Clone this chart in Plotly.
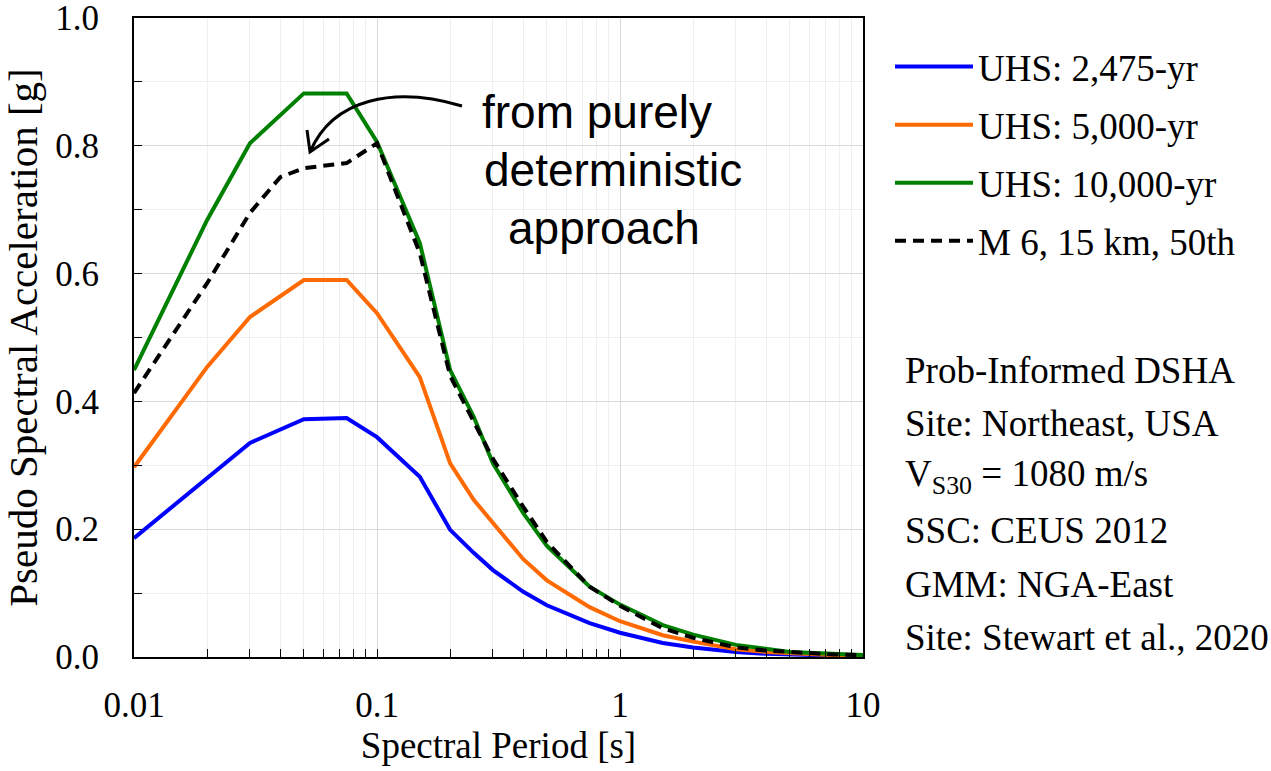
import plotly.graph_objects as go

# ---- data ----
periods_uhs = [0.01, 0.02, 0.03, 0.05, 0.075, 0.1, 0.15, 0.2, 0.25, 0.3, 0.4, 0.5,
               0.75, 1.0, 1.5, 2.0, 3.0, 4.0, 5.0, 7.5, 10.0]
uhs_2475 = [0.186, 0.28, 0.335, 0.372, 0.374, 0.344, 0.282, 0.199, 0.163, 0.136, 0.102, 0.081,
            0.053, 0.038, 0.022, 0.015, 0.008, 0.005, 0.004, 0.002, 0.001]
uhs_5000 = [0.297, 0.454, 0.532, 0.59, 0.59, 0.538, 0.438, 0.303, 0.246, 0.21, 0.153, 0.12,
            0.078, 0.056, 0.034, 0.024, 0.012, 0.008, 0.006, 0.003, 0.002]
uhs_10000 = [0.449, 0.684, 0.804, 0.882, 0.882, 0.806, 0.648, 0.449, 0.376, 0.303, 0.225, 0.174,
             0.11, 0.082, 0.05, 0.035, 0.019, 0.012, 0.008, 0.005, 0.003]
periods_det = [0.01, 0.02, 0.03, 0.04, 0.05, 0.075, 0.1, 0.15, 0.2, 0.25, 0.3, 0.4, 0.5,
               0.75, 1.0, 1.5, 2.0, 3.0, 4.0, 5.0, 7.5, 10.0]
det_m6 = [0.413, 0.585, 0.695, 0.751, 0.765, 0.773, 0.804, 0.632, 0.44, 0.37, 0.31, 0.235, 0.18,
          0.11, 0.08, 0.045, 0.03, 0.015, 0.01, 0.008, 0.004, 0.003]

series_names = ["UHS: 2,475-yr", "UHS: 5,000-yr", "UHS: 10,000-yr", "M 6, 15 km, 50th"]
series_colors = ["#0000FF", "#FF6A00", "#008000", "#000000"]

x_tick_vals = [0.01, 0.1, 1, 10]
x_tick_text = ["0.01", "0.1", "1", "10"]
y_tick_vals = [0.0, 0.2, 0.4, 0.6, 0.8, 1.0]
y_tick_text = ["0.0", "0.2", "0.4", "0.6", "0.8", "1.0"]
info_lines = ["Prob-Informed DSHA", "Site: Northeast, USA", "V<sub>S30</sub> = 1080 m/s",
              "SSC: CEUS 2012", "GMM: NGA-East", "Site: Stewart et al., 2020"]
annot_lines = ["from purely", "deterministic", "approach"]

SERIF = "Liberation Serif, Times New Roman, serif"
SANS = "Liberation Sans, Arial, sans-serif"

# plot area in pixels
L, R, T, B = 134, 863, 18, 657
W, H = R - L, B - T
def px(x):
    return (x - L) / W
def py(y):
    return (B - y) / H

fig = go.Figure()
ys = [uhs_2475, uhs_5000, uhs_10000]
for i in range(3):
    fig.add_trace(go.Scatter(x=periods_uhs, y=ys[i], mode="lines", name=series_names[i],
                             line=dict(color=series_colors[i], width=4), legendgroup=str(i)))
fig.add_trace(go.Scatter(x=periods_det, y=det_m6, mode="lines", name=series_names[3],
                         line=dict(color=series_colors[3], width=4, dash="11px,7px"),
                         legendgroup="3"))

minor_x = [m * 10 ** e for e in (-2, -1, 0) for m in range(2, 10)]
minor_y = [0.1, 0.3, 0.5, 0.7, 0.9]

fig.update_xaxes(type="log", range=[-2, 1], tickmode="array", tickvals=x_tick_vals,
                 ticktext=x_tick_text, ticks="inside", ticklen=8, tickcolor="black",
                 showline=True, linecolor="black", linewidth=2, mirror=True,
                 showgrid=True, gridcolor="#d9d9d9", gridwidth=1,
                 minor=dict(tickmode="array", tickvals=minor_x, ticks="inside", ticklen=8,
                            tickcolor="black", showgrid=True, gridcolor="#efefef", gridwidth=1),
                 tickfont=dict(family=SERIF, size=35, color="black"),
                 title=dict(text="Spectral Period [s]", font=dict(family=SERIF, size=37, color="black"),
                            standoff=6),
                 ticklabelstandoff=16, ticklabeloverflow="allow", zeroline=False)
fig.update_yaxes(range=[0, 1], tickmode="array", tickvals=y_tick_vals, ticktext=y_tick_text,
                 ticks="inside", ticklen=8,
                 tickcolor="black", showline=True, linecolor="black", linewidth=2, mirror=True,
                 showgrid=True, gridcolor="#d9d9d9", gridwidth=1,
                 minor=dict(tickmode="array", tickvals=minor_y, ticks="inside", ticklen=8,
                            tickcolor="black", showgrid=True, gridcolor="#efefef", gridwidth=1),
                 tickfont=dict(family=SERIF, size=35, color="black"),
                 title=dict(text="Pseudo Spectral Acceleration [g]",
                            font=dict(family=SERIF, size=41, color="black"), standoff=8),
                 ticklabelstandoff=26, ticklabeloverflow="allow", zeroline=False)

# annotation text lines
annot_pos = [(597, 112), (613, 170), (604, 228)]
for t, (ax_, ay_) in zip(annot_lines, annot_pos):
    fig.add_annotation(x=px(ax_), y=py(ay_), xref="paper", yref="paper", text=t,
                       showarrow=False, xanchor="center", yanchor="middle",
                       font=dict(family=SANS, size=46, color="black"))

# curved arrow
def P(x, y):
    return f"{px(x):.5f},{py(y):.5f}"
path = (f"M {P(462,106)} C {P(395,86)} {P(333,98)} {P(310,152)} "
        f"M {P(307,130)} L {P(310,152)} L {P(329,139)}")
fig.add_shape(type="path", path=path, xref="paper", yref="paper",
              line=dict(color="black", width=3))

# info text
info_y = [370, 423, 477, 530, 584, 637]
for t, yy in zip(info_lines, info_y):
    fig.add_annotation(x=px(903), y=py(yy), xref="paper", yref="paper", text=t,
                       showarrow=False, xanchor="left", yanchor="middle",
                       font=dict(family=SERIF, size=37, color="black"))

fig.update_layout(
    width=1271, height=771,
    margin=dict(l=L, r=1271 - R, t=T, b=771 - B, autoexpand=False),
    paper_bgcolor="white", plot_bgcolor="white",
    showlegend=True,
    legend=dict(x=px(890), y=py(36), xanchor="left", yanchor="top",
                font=dict(family=SERIF, size=37, color="black"),
                tracegroupgap=7, itemwidth=78, bgcolor="rgba(0,0,0,0)"),
)

fig.write_html("out.html")
